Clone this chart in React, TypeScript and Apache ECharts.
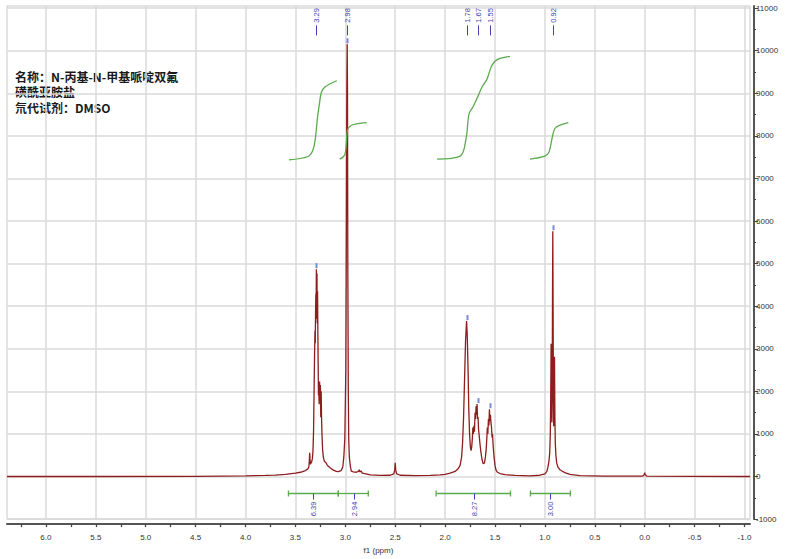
import React, { useEffect, useRef } from "react";
import * as echarts from "echarts";

// ---------- data ----------
const titleLines = ["名称：N-丙基-N-甲基哌啶双氟", "磺酰亚胺盐", "氘代试剂：DMSO"];

// 1H NMR spectrum trace: [ppm, intensity]
const spectrum: [number, number][] = [
  [6.39, 0], [5.5, 0], [4.5, 5], [4.0, 15], [3.8, 25], [3.7, 35], [3.6, 50], [3.5, 80], [3.45, 100],
  [3.40, 140], [3.375, 180], [3.365, 230], [3.360, 400], [3.357, 560], [3.354, 420], [3.350, 290],
  [3.345, 300], [3.338, 340], [3.330, 420], [3.324, 600], [3.318, 1100], [3.313, 2000], [3.308, 2900],
  [3.304, 3430], [3.301, 3130], [3.298, 3900], [3.295, 4300], [3.293, 3700], [3.290, 4870], [3.287, 4100],
  [3.284, 4770], [3.281, 3600], [3.278, 4350], [3.275, 3380], [3.272, 2600], [3.269, 1900], [3.266, 2000],
  [3.262, 1700], [3.258, 2230], [3.254, 1850], [3.250, 2150], [3.246, 1390], [3.242, 2000], [3.238, 1400],
  [3.234, 1000], [3.228, 650], [3.220, 450], [3.210, 360], [3.195, 330], [3.185, 280], [3.170, 240],
  [3.150, 200], [3.120, 150], [3.090, 120], [3.070, 115], [3.050, 130], [3.040, 145], [3.025, 230],
  [3.015, 460], [3.005, 900], [2.995, 2500], [2.990, 5500], [2.985, 9000], [2.981, 10150], [2.978, 9000],
  [2.975, 5000], [2.970, 2000], [2.966, 900], [2.960, 460], [2.950, 250], [2.940, 125], [2.920, 110],
  [2.890, 100], [2.870, 120], [2.860, 160], [2.855, 110], [2.840, 130], [2.830, 80], [2.805, 70],
  [2.75, 40], [2.65, 25], [2.55, 30], [2.515, 60], [2.505, 150], [2.500, 320], [2.495, 150], [2.485, 60],
  [2.45, 30], [2.3, 20], [2.15, 25], [2.05, 40], [2.0, 50], [1.95, 80], [1.90, 120], [1.87, 180],
  [1.85, 260], [1.835, 450], [1.825, 800], [1.815, 1400], [1.805, 2300], [1.795, 3200], [1.785, 3650],
  [1.778, 3300], [1.770, 2500], [1.763, 1600], [1.755, 1000], [1.747, 700], [1.740, 610], [1.733, 700],
  [1.727, 900], [1.722, 1150], [1.717, 1000], [1.711, 1190], [1.706, 1050], [1.700, 1500], [1.695, 1350],
  [1.690, 1650], [1.685, 1450], [1.680, 1700], [1.675, 1350], [1.670, 1400], [1.665, 1110], [1.658, 950],
  [1.650, 750], [1.640, 550], [1.630, 400], [1.620, 310], [1.612, 300], [1.604, 340], [1.596, 460],
  [1.588, 650], [1.582, 900], [1.577, 1150], [1.572, 1000], [1.566, 1350], [1.561, 1200], [1.556, 1580],
  [1.551, 1300], [1.546, 1450], [1.541, 1270], [1.535, 1150], [1.530, 920], [1.525, 1000], [1.518, 700],
  [1.510, 460], [1.500, 260], [1.490, 150], [1.475, 100], [1.45, 70], [1.40, 45], [1.30, 25], [1.15, 15],
  [1.05, 30], [1.00, 60], [0.98, 120], [0.97, 220], [0.96, 350], [0.952, 550], [0.946, 1000],
  [0.942, 1800], [0.938, 3120], [0.934, 1700], [0.930, 1270], [0.927, 2000], [0.924, 4200], [0.921, 5760],
  [0.918, 4000], [0.915, 1800], [0.912, 1180], [0.908, 1600], [0.904, 2810], [0.900, 1400], [0.896, 800],
  [0.890, 500], [0.882, 320], [0.870, 220], [0.850, 160], [0.830, 130], [0.80, 90], [0.75, 50], [0.65, 20],
  [0.40, 10], [0.02, 10], [0.005, 40], [0.0, 90], [-0.005, 40], [-0.02, 10], [-0.5, 5], [-1.055, 0],
];

// integral curves: [ppm, level]
const integralCurve1: [number, number][] = [
  [3.565, 7437], [3.374, 7516], [3.324, 7669], [3.30, 7941], [3.28, 8405], [3.257, 8793],
  [3.24, 9025], [3.207, 9141], [3.157, 9218], [3.085, 9294],
];
const integralCurve2: [number, number][] = [
  [3.056, 7453], [3.006, 7553], [2.989, 7864], [2.979, 8133], [2.939, 8249], [2.873, 8289], [2.785, 8312],
];
const integralCurve3: [number, number][] = [
  [2.08, 7453], [1.85, 7523], [1.79, 7941], [1.76, 8521], [1.72, 8684], [1.67, 8939], [1.63, 9148],
  [1.58, 9334], [1.54, 9612], [1.50, 9752], [1.45, 9821], [1.35, 9868],
];
const integralCurve4: [number, number][] = [
  [1.15, 7453], [1.0, 7523], [0.96, 7616], [0.94, 7801], [0.92, 8033], [0.90, 8173], [0.86, 8242], [0.765, 8312],
];

// peak picking
const peakPositions = [3.29, 2.98, 1.78, 1.67, 1.55, 0.92];
const peakLabels = ["3.29", "2.98", "1.78", "1.67", "1.55", "0.92"];
const peakHeights = [4870, 10150, 3650, 1700, 1580, 5760];

// integration regions
const integralRanges: [number, number][] = [[3.57, 3.07], [3.07, 2.77], [2.09, 1.345], [1.145, 0.745]];
const integralLabelPositions = [3.32, 2.91, 1.715, 0.945];
const integralLabels = ["6.39", "2.94", "8.27", "3.00"];

// axes
const xTickValues = [-1.0, -0.75, -0.5, -0.25, 0, 0.25, 0.5, 0.75, 1.0, 1.25, 1.5, 1.75, 2.0, 2.25, 2.5, 2.75,
  3.0, 3.25, 3.5, 3.75, 4.0, 4.25, 4.5, 4.75, 5.0, 5.25, 5.5, 5.75, 6.0, 6.25];
const xLabelValues = [-1.0, -0.5, 0, 0.5, 1.0, 1.5, 2.0, 2.5, 3.0, 3.5, 4.0, 4.5, 5.0, 5.5, 6.0];
const yTickValues = [-1000, 0, 1000, 2000, 3000, 4000, 5000, 6000, 7000, 8000, 9000, 10000, 11000];
const yMinorValues = [-500, 500, 1500, 2500, 3500, 4500, 5500, 6500, 7500, 8500, 9500, 10500];

// ---------- styles ----------
const RED = "#8e1d1d";
const GREEN = "#5aab4c";
const BLUE = "#4242b0";
const AXIS = "#555555";
const GRIDLINE = "#dadada";
const FONT = "Liberation Sans";

export default function App() {
  const ref = useRef<HTMLDivElement>(null);
  useEffect(() => {
    if (!ref.current) return;
    const chart = echarts.init(ref.current, null, { renderer: "svg" });
    const greenLine = (data: [number, number][]) => ({
      type: "line",
      data,
      showSymbol: false,
      symbol: "none",
      smooth: 0.35,
      lineStyle: { color: GREEN, width: 1.3 },
      z: 4,
      silent: true,
    });
    const option: any = {
      animation: false,
      backgroundColor: "#ffffff",
      grid: { left: 7, right: 39, top: 6, bottom: 33, show: true, borderColor: "#c9c9c9", borderWidth: 1 },
      graphic: titleLines.map((t, i) => ({
        type: "text",
        left: 15,
        top: 70 + i * 15.5,
        style: {
          text: t,
          fontSize: 12,
          fontWeight: "bold",
          fontFamily: "Noto Sans CJK SC",
          fill: "#1a1a1a",
        },
      })),
      xAxis: [
        {
          type: "value",
          position: "bottom",
          min: -1.055,
          max: 6.39,
          inverse: true,
          offset: 5,
          name: "f1 (ppm)",
          nameLocation: "middle",
          nameGap: 16,
          nameTextStyle: { fontSize: 8, color: "#333", fontFamily: FONT },
          axisLine: { onZero: false, lineStyle: { color: AXIS, width: 2 } },
          axisTick: { customValues: xTickValues, length: 3, lineStyle: { color: "#444", width: 1.3 } },
          axisLabel: {
            customValues: xLabelValues,
            formatter: (v: number) => v.toFixed(1),
            fontSize: 8,
            color: "#333",
            fontFamily: FONT,
            margin: 9,
          },
          splitLine: { show: false },
        },
        {
          type: "value",
          position: "bottom",
          min: -1.055,
          max: 6.39,
          inverse: true,
          axisLine: { show: false, onZero: false },
          axisTick: { show: false, customValues: xLabelValues },
          axisLabel: { show: false },
          splitLine: { show: true, lineStyle: { color: GRIDLINE, width: 1.5 } },
        },
      ],
      yAxis: [
        {
          type: "value",
          position: "right",
          min: -1000,
          max: 11050,
          offset: 4,
          axisLine: { show: true, onZero: false, lineStyle: { color: AXIS, width: 2 } },
          axisTick: { show: true, customValues: yTickValues, length: 4, lineStyle: { color: "#444", width: 1 } },
          axisLabel: {
            customValues: yTickValues,
            formatter: (v: number) => String(v),
            fontSize: 8,
            color: "#333",
            fontFamily: FONT,
            margin: 2,
          },
          splitLine: { show: true, lineStyle: { color: GRIDLINE, width: 1.5 } },
        },
        {
          type: "value",
          position: "right",
          min: -1000,
          max: 11050,
          offset: 4,
          axisLine: { show: false, onZero: false },
          axisTick: { show: true, customValues: yMinorValues, length: 2, lineStyle: { color: "#444", width: 1 } },
          axisLabel: { show: false },
          splitLine: { show: false },
        },
      ],
      series: [
        {
          type: "line",
          data: spectrum,
          showSymbol: false,
          symbol: "none",
          lineStyle: { color: RED, width: 1.3 },
          z: 3,
          silent: true,
        },
        greenLine(integralCurve1),
        greenLine(integralCurve2),
        greenLine(integralCurve3),
        greenLine(integralCurve4),
        {
          type: "custom",
          data: peakPositions.map((p, i) => [p, peakHeights[i], i]),
          encode: { x: 0, y: 1 },
          clip: false,
          z: 6,
          silent: true,
          renderItem: (_params: any, api: any) => {
            const i = api.value(2);
            const top = api.coord([api.value(0), api.value(1)]);
            const lab = api.coord([api.value(0), 10830]);
            const x = Math.round(top[0]) + 0.5;
            return {
              type: "group",
              children: [
                {
                  type: "text",
                  x,
                  y: lab[1],
                  rotation: Math.PI / 2,
                  style: {
                    text: peakLabels[i],
                    fill: BLUE,
                    fontSize: 7.5,
                    fontFamily: FONT,
                    align: "center",
                    verticalAlign: "middle",
                  },
                },
                {
                  type: "line",
                  shape: { x1: x, y1: lab[1] + 10, x2: x, y2: lab[1] + 20 },
                  style: { stroke: BLUE, lineWidth: 1 },
                },
                {
                  type: "rect",
                  shape: { x: x - 1, y: top[1] - 6, width: 2, height: 5 },
                  style: { fill: "#7f86d6" },
                },
              ],
            };
          },
        },
        {
          type: "custom",
          data: integralRanges.map((r, i) => [r[0], r[1], integralLabelPositions[i], i]),
          encode: { x: [0, 1, 2] },
          clip: false,
          z: 6,
          silent: true,
          renderItem: (_params: any, api: any) => {
            const i = api.value(3);
            const a = api.coord([api.value(0), -394]);
            const b = api.coord([api.value(1), -394]);
            const l = api.coord([api.value(2), -394]);
            const y = Math.round(a[1]) + 0.5;
            const lx = Math.round(l[0]) + 0.5;
            return {
              type: "group",
              children: [
                { type: "line", shape: { x1: a[0], y1: y, x2: b[0], y2: y }, style: { stroke: GREEN, lineWidth: 1.3 } },
                { type: "line", shape: { x1: a[0], y1: y - 3, x2: a[0], y2: y + 3 }, style: { stroke: GREEN, lineWidth: 1.3 } },
                { type: "line", shape: { x1: b[0], y1: y - 3, x2: b[0], y2: y + 3 }, style: { stroke: GREEN, lineWidth: 1.3 } },
                { type: "line", shape: { x1: lx, y1: y, x2: lx, y2: y + 6 }, style: { stroke: BLUE, lineWidth: 1 } },
                {
                  type: "text",
                  x: lx,
                  y: y + 15.5,
                  rotation: Math.PI / 2,
                  style: {
                    text: integralLabels[i],
                    fill: BLUE,
                    fontSize: 7.5,
                    fontFamily: FONT,
                    align: "center",
                    verticalAlign: "middle",
                  },
                },
              ],
            };
          },
        },
      ],
    };
    chart.setOption(option);
    return () => chart.dispose();
  }, []);
  return <div ref={ref} style={{ width: 789, height: 559, position: "absolute", left: 0, top: 0 }} />;
}
